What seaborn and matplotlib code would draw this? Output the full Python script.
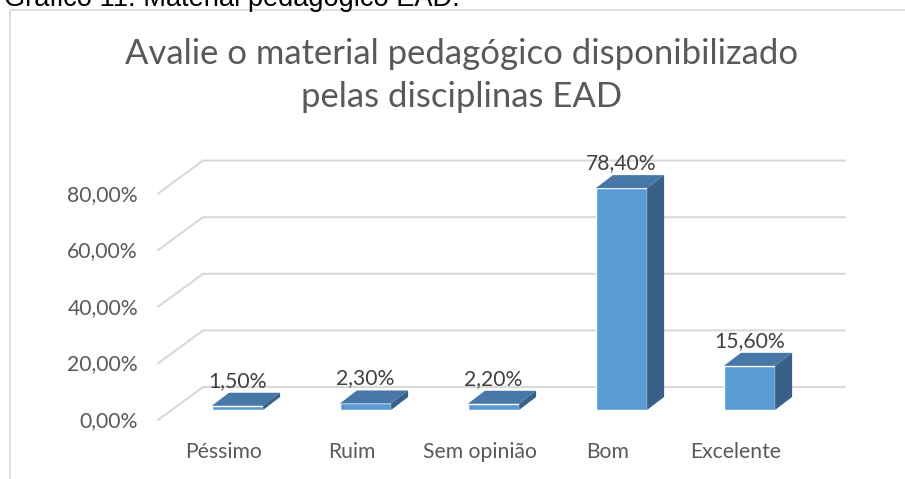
import matplotlib
matplotlib.use("Agg")
import matplotlib.pyplot as plt
import seaborn as sns
import pandas as pd
from matplotlib.patches import Polygon
from matplotlib.lines import Line2D

categories = ["Péssimo", "Ruim", "Sem opinião", "Bom", "Excelente"]
values = [1.5, 2.3, 2.2, 78.4, 15.6]
value_labels = ["1,50%", "2,30%", "2,20%", "78,40%", "15,60%"]
yticks = [0, 20, 40, 60, 80]
ytick_labels = ["0,00%", "20,00%", "40,00%", "60,00%", "80,00%"]
title_lines = ["Avalie o material pedagógico disponibilizado", "pelas disciplinas EAD"]
caption = "Gráfico 11: Material pedagógico EAD."

sns.set_theme(style="white")
plt.rcParams["font.family"] = ["Lato", "DejaVu Sans"]

W, H = 905, 479
fig = plt.figure(figsize=(W / 100, H / 100), dpi=100)
ax = fig.add_axes([0, 0, 1, 1])
renderer = fig.canvas.get_renderer()


def fit(text_artist, target_px):
    bb = text_artist.get_window_extent(renderer=renderer)
    text_artist.set_fontsize(text_artist.get_fontsize() * target_px / bb.width)
    return text_artist


df = pd.DataFrame({"cat": categories, "val": values})
FRONT, TOP, SIDE = "#5b9bd5", "#4677a6", "#386088"
sns.barplot(data=df, x="cat", y="val", ax=ax, color=FRONT, width=0.4,
            saturation=1, zorder=3, errorbar=None)

# pixel <-> data mapping
PXC = 128.0      # px per category
PXY = 2.83       # px per percent
X0 = 237.5       # px of first bar centre
Y0 = 410.0       # px (from top) of bar baseline
PX = 1 / PXC
PY = 1 / PXY
ax.set_xlim(-X0 / PXC, (W - X0) / PXC)
ax.set_ylim(-(H - Y0) / PXY, Y0 / PXY)
ax.axis("off")

# font size of small labels: fit "80,00%" to its width in the reference
probe = ax.text(0, 0, ytick_labels[-1], fontsize=14)
fit(probe, 71)
SMALL = probe.get_fontsize()
probe.remove()

GRID = "#d9d9d9"
fx = (158 - X0) * PX
bx = (203 - X0) * PX
rx = (845 - X0) * PX
for v, lab in zip(yticks, ytick_labels):
    yf = v - 10 * PY
    yb = v + 23 * PY
    ax.plot([fx, bx, rx], [yf, yb, yb], color=GRID, lw=1.5, zorder=1,
            solid_joinstyle="miter")
    ax.text((138 - X0) * PX, yf - 1 * PY, lab, ha="right", va="center",
            fontsize=SMALL, color="#595959")

# 3D faces
dx, dy = 17 * PX, 13 * PY
for p in ax.patches[:len(values)]:
    x, w, h = p.get_x(), p.get_width(), p.get_height()
    ax.add_patch(Polygon([(x, h), (x + w, h), (x + w + dx, h + dy), (x + dx, h + dy)],
                         closed=True, facecolor=TOP, edgecolor="none", zorder=3))
    ax.add_patch(Polygon([(x + w, 0), (x + w, h), (x + w + dx, h + dy), (x + w + dx, dy)],
                         closed=True, facecolor=SIDE, edgecolor="none", zorder=3))

for i, (v, lab) in enumerate(zip(values, value_labels)):
    ax.text(i, v + dy + 12 * PY, lab, ha="center", va="center",
            fontsize=SMALL, color="#404040", zorder=4)

for i, c in enumerate(categories):
    ax.text(i - 13.6 * PX, -(452 - Y0) * PY, c, ha="center", va="center",
            fontsize=SMALL, color="#595959")

t1 = fig.text(462 / W, 1 - 64 / H, title_lines[0], ha="center", va="baseline",
              fontsize=22, color="#595959")
fit(t1, 669)
fig.text(462 / W, 1 - 107 / H, title_lines[1], ha="center", va="baseline",
         fontsize=t1.get_fontsize(), color="#595959")

cap = fig.text(4 / W, 1 - 6 / H, caption, ha="left", va="baseline", fontsize=19,
               color="black", family=["Liberation Sans", "DejaVu Sans"])
fit(cap, 455)

fig.add_artist(Line2D([10 / W, 10 / W, 1], [0, 1 - 10 / H, 1 - 10 / H],
                      transform=fig.transFigure, color=GRID, lw=1.2))

fig.savefig("out.png", dpi=100)
